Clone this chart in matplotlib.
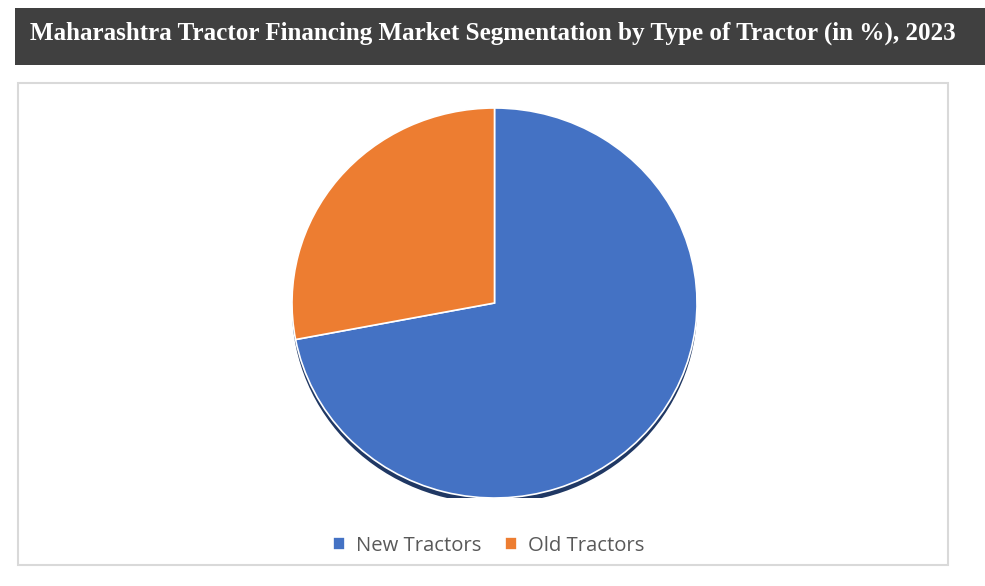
import matplotlib.pyplot as plt
from matplotlib.patches import Rectangle, Wedge

## chart data
labels = ['New Tractors', 'Old Tractors']
shares = [72, 28]
colors = ['#4472C4', '#ED7D31']
title = 'Maharashtra Tractor Financing Market Segmentation by Type of Tractor (in %), 2023'

W, H = 985, 586
fig = plt.figure(figsize=(W / 100, H / 100), dpi=100)

## title band
fig.patches.append(Rectangle((15 / W, 1 - 65 / H), 1 - 15 / W, 57 / H,
                             transform=fig.transFigure, facecolor='#404040',
                             edgecolor='none', zorder=-2))
fig.text(30 / W, 1 - 33 / H, title, color='white', fontsize=18.1,
         fontweight='bold', family='Liberation Serif', va='center', ha='left')

## chart border
fig.patches.append(Rectangle((18 / W, 1 - 565 / H), 930 / W, 482 / H,
                             transform=fig.transFigure, facecolor='none',
                             edgecolor='#D9D9D9', linewidth=1.5, zorder=-1))

## pie area: x 292..697, y 108..498 (pixels), slightly oval like the source
x0, x1, y0, y1 = 292, 697, 108, 498
ax = fig.add_axes([x0 / W, 1 - y1 / H, (x1 - x0) / W, (y1 - y0) / H])
ax.axis('off')

wedges, _ = ax.pie(shares, colors=colors, startangle=90, counterclock=False,
                   radius=1.0, wedgeprops=dict(edgecolor='white', linewidth=1.2))
for w in wedges:
    w.set_zorder(2)

# soft shadow under the pie
ax.add_patch(Wedge((0, -0.028), 1.0, 180, 360, facecolor='#203864',
                   edgecolor='none', zorder=1))
ax.set_aspect('auto')
ax.set_xlim(-1, 1)
ax.set_ylim(-1, 1)

## legend
fig.legend(wedges, labels, loc='center', bbox_to_anchor=(489 / W, 1 - 546 / H),
           ncol=2, frameon=False, handlelength=0.6, handleheight=0.6,
           handletextpad=0.55, columnspacing=1.15,
           prop=dict(family='Open Sans', size=14.6), labelcolor='#595959')

fig.savefig('out.png', dpi=100)
